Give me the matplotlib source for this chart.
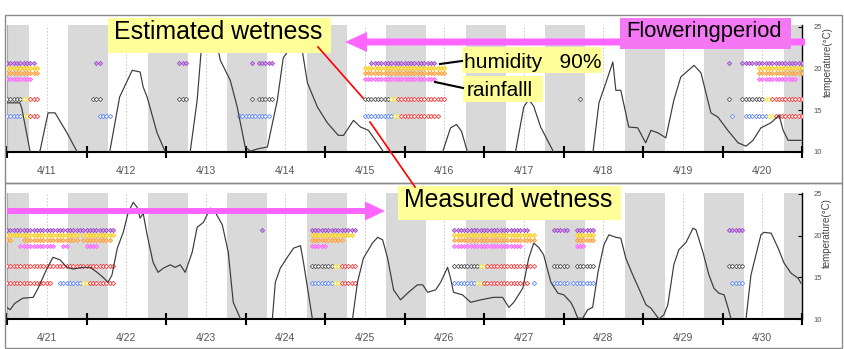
import numpy as np
import matplotlib
matplotlib.use('Agg')
import matplotlib.pyplot as plt
from matplotlib.patches import Rectangle, FancyArrow
from matplotlib.lines import Line2D
import matplotlib.transforms as mtransforms

plt.rcParams['font.family'] = ['Liberation Sans', 'DejaVu Sans']

# ---------------- data ----------------
top_days = ['4/11', '4/12', '4/13', '4/14', '4/15', '4/16', '4/17', '4/18', '4/19', '4/20']
bottom_days = ['4/21', '4/22', '4/23', '4/24', '4/25', '4/26', '4/27', '4/28', '4/29', '4/30']

# hours since 0:00 of the first day, air temperature (deg C)
top_hours = [0, 3.9, 4.5, 7, 8.5, 10, 12.4, 14.5, 18.1, 21.2, 23.6, 28, 31, 34, 37.8, 40.2, 41.1,
             42.3, 45.3, 47.8, 50.8, 55.3, 57.4, 59.2, 60.7, 62.3, 64.4, 67.4, 69.5, 71.9, 73.5,
             75.9, 78.6, 81.6, 83.4, 85.5, 87.3, 89.2, 90.7, 93.7, 96.7, 100, 101.6, 104.6, 106.7,
             109.1, 111.8, 113.7, 117.3, 127.9, 131.5, 133.9, 135.7, 137.2, 139, 146, 153.5, 156,
             157.5, 159, 161.1, 165, 170.2, 176.9, 178.7, 180.8, 182.9, 183.8, 185.3, 187.7, 190.4,
             192.8, 194.4, 196.5, 198.9, 201.3, 203.4, 207.4, 209.5, 212.5, 214.6, 217.6, 220.7,
             223.1, 225.2, 227.6, 230.6, 233.1, 234.3, 235.8, 239.7]
top_temp = [15.9, 15.9, 15.2, 10.0, 9.5, 10.2, 14.7, 14.7, 12.3, 10.0, 9.0, 9.0, 10.0, 16.6, 19.8,
            19.6, 17.8, 16.6, 12.3, 10.0, 9.0, 10.0, 16.2, 25.0, 26.5, 25.0, 21.0, 18.6, 15.4, 10.6,
            10.1, 10.4, 10.6, 16.2, 21.3, 22.5, 25.5, 22.0, 18.3, 15.4, 13.5, 12.0, 12.0, 13.8,
            13.0, 12.6, 11.1, 10.0, 9.0, 9.0, 10.0, 12.9, 13.3, 12.5, 10.0, 9.0, 10.0, 15.4, 16.3,
            15.5, 13.0, 10.0, 9.0, 10.0, 15.9, 18.3, 20.8, 17.4, 17.4, 13.0, 12.9, 11.1, 12.6,
            12.3, 11.7, 16.2, 19.0, 20.4, 19.5, 14.7, 14.2, 12.6, 11.1, 10.7, 11.4, 12.9, 13.5,
            14.4, 12.6, 11.4, 11.4]

bottom_hours = [0, 0.9, 2.4, 4.8, 7.9, 9.4, 12.1, 13.9, 16.0, 18.1, 20.0, 23.0, 25.1, 27.2, 29.0,
                30.5, 31.7, 33.3, 35.1, 36.6, 38.1, 39.3, 40.2, 41.1, 42.3, 44.1, 45.6, 47.2,
                49.3, 50.8, 52.3, 53.8, 55.9, 57.4, 59.3, 61.4, 62.9, 65.0, 66.8, 68.3, 70.4,
                72.6, 78.0, 80.1, 81.0, 82.5, 84.6, 86.5, 88.6, 89.5, 92.2, 98.0, 104.3, 105.8,
                107.6, 110.3, 111.9, 113.4, 114.9, 116.7, 118.8, 121.2, 123.9, 125.5, 127.0,
                129.4, 130.9, 133.0, 133.9, 134.8, 137.5, 140.0, 143.0, 146.9, 149.6, 151.5,
                153.0, 155.7, 157.5, 159.0, 160.5, 162.0, 164.2, 166.3, 168.1, 170.2, 171.1,
                172.3, 173.8, 175.3, 176.8, 178.4, 180.2, 181.7, 183.8, 185.3, 186.8, 188.9,
                190.7, 192.9, 194.4, 195.9, 196.8, 198.3, 199.5, 201.3, 202.8, 205.0, 207.1,
                208.0, 210.1, 211.9, 213.4, 214.9, 216.5, 217.7, 218.6, 220.7, 223.1, 224.6,
                226.1, 227.6, 228.5, 230.7, 232.8, 234.6, 236.7, 238.8, 239.7]
bottom_temp = [11.4, 11.1, 11.9, 12.5, 12.6, 13.7, 16.1, 17.4, 17.1, 16.2, 16.0, 16.2, 16.2, 15.6,
               15.0, 14.4, 15.3, 18.5, 20.4, 22.8, 24.0, 23.4, 22.1, 22.7, 20.1, 16.8, 15.6, 16.1,
               16.5, 16.2, 16.5, 15.6, 18.0, 21.0, 21.6, 23.3, 22.8, 21.3, 18.0, 12.0, 10.1, 9.0,
               9.0, 10.0, 14.4, 16.1, 17.4, 18.5, 18.8, 16.8, 10.0, 9.0, 10.0, 14.4, 17.3, 19.1,
               19.8, 19.5, 17.3, 13.5, 12.3, 13.2, 14.1, 14.1, 13.2, 13.5, 14.4, 16.2, 14.9, 13.2,
               12.9, 12.0, 12.3, 12.6, 12.6, 11.4, 12.0, 13.7, 17.3, 19.1, 18.6, 17.7, 14.4, 13.1,
               12.9, 12.0, 11.3, 10.1, 10.1, 11.1, 11.4, 15.6, 18.9, 20.1, 19.8, 19.7, 17.3, 15.3,
               13.7, 11.7, 11.3, 10.5, 10.0, 10.5, 11.7, 16.5, 18.3, 19.2, 20.9, 20.7, 18.0, 15.3,
               13.7, 13.1, 12.9, 11.3, 10.0, 9.0, 10.0, 15.3, 17.7, 20.1, 20.4, 20.3, 18.5, 16.7,
               15.5, 14.9, 14.3]

# hourly condition flags: (start hour, end hour)
top_humidity = [(0, 8), (27, 28), (52, 54), (74, 74), (76, 80), (110, 129), (218, 218), (222, 240)]
top_yellow = [(0, 9), (108, 132), (227, 240)]
top_orange = [(0, 9), (108, 132), (227, 240)]
top_rain = [(0, 7), (108, 124), (125, 129), (227, 238)]
# wetness rows: (start hour, end hour, state)  g=dry estimate, b=dry measured, y=transition, r=wet
top_estimated = [(0, 4, 'g'), (5, 6, 'y'), (7, 9, 'r'), (26, 28, 'g'), (52, 54, 'g'), (74, 74, 'g'),
                 (76, 80, 'g'), (108, 115, 'g'), (116, 117, 'y'), (118, 132, 'r'), (173, 173, 'g'),
                 (218, 218, 'g'), (222, 228, 'g'), (229, 230, 'y'), (231, 240, 'r')]
top_measured = [(0, 4, 'b'), (5, 6, 'y'), (7, 9, 'r'), (28, 31, 'b'), (70, 79, 'b'), (108, 116, 'b'),
                (117, 118, 'y'), (119, 130, 'r'), (219, 219, 'b'), (223, 229, 'b'), (230, 231, 'y'),
                (232, 240, 'r')]

bottom_humidity = [(0, 32), (77, 77), (92, 105), (135, 157), (165, 169), (172, 177), (218, 222)]
bottom_yellow = [(0, 21), (23, 32), (92, 104), (135, 159), (172, 177)]
bottom_orange = [(0, 1), (5, 21), (23, 31), (92, 101), (135, 159), (172, 177)]
bottom_rain = [(4, 12), (13, 14), (17, 18), (24, 27), (92, 96), (135, 155), (172, 174)]
bottom_estimated = [(0, 32, 'r'), (92, 98, 'g'), (99, 100, 'y'), (101, 105, 'r'), (135, 142, 'g'),
                    (143, 144, 'y'), (145, 159, 'r'), (165, 169, 'g'), (172, 177, 'g'),
                    (218, 222, 'g')]
bottom_measured = [(0, 13, 'r'), (16, 22, 'b'), (23, 24, 'y'), (25, 32, 'r'), (92, 98, 'b'),
                   (99, 100, 'y'), (101, 105, 'r'), (135, 141, 'b'), (142, 143, 'y'), (144, 157, 'r'),
                   (159, 159, 'b'), (165, 169, 'b'), (171, 177, 'b'), (219, 222, 'b')]

# ---------------- styling ----------------
W, H = 844, 349
fig = plt.figure(figsize=(W / 100, H / 100), dpi=100)
PX = mtransforms.Affine2D().scale(1 / W, -1 / H).translate(0, 1) + fig.transFigure

GRAY = '#d9d9d9'
STATE_COL = {'g': '#555555', 'b': '#5f87ff', 'y': '#f5e632', 'r': '#ff3b3b'}
ROW_LEVEL = {'hum': 20.7, 'yel': 20.05, 'ora': 19.45, 'rain': 18.75, 'est': 16.4, 'mea': 14.3}


def draw_flags(ax, segs, level, color, light):
    for s, e in segs:
        hrs = np.arange(s, e + 0.5, 1.0)
        ax.plot(hrs, [level] * len(hrs), ls='-', lw=0.6, color=light, marker='D', ms=2.2,
                mfc=light, mec=color, mew=0.5, zorder=3)


def draw_states(ax, segs, level):
    for s, e, st in segs:
        c = STATE_COL[st]
        hrs = np.arange(s, e + 0.5, 1.0)
        ax.plot(hrs, [level] * len(hrs), ls='-', lw=0.6, color=c, marker='D', ms=2.2,
                mfc='white', mec=c, mew=0.6, zorder=3)


def panel(rect, ytop, labels, hours, temps, hum, yel, ora, rain, est, mea):
    ax = fig.add_axes(rect)
    ax.set_xlim(0, 240)
    ax.set_ylim(10, ytop)
    for d in range(-1, 10):
        ax.axvspan(d * 24 + 18.5, d * 24 + 30.5, color=GRAY, lw=0, zorder=0)
        ax.axvline(d * 24 + 12, color='#c4c4c4', lw=0.6, ls=(0, (2, 2)), zorder=1)
    draw_flags(ax, hum, ROW_LEVEL['hum'], '#9a3fc8', '#c99be0')
    draw_flags(ax, yel, ROW_LEVEL['yel'], '#ffc400', '#ffe680')
    draw_flags(ax, ora, ROW_LEVEL['ora'], '#ff9a2e', '#ffc48a')
    draw_flags(ax, rain, ROW_LEVEL['rain'], '#ff5cff', '#ff9cff')
    draw_states(ax, est, ROW_LEVEL['est'])
    draw_states(ax, mea, ROW_LEVEL['mea'])
    ax.plot(hours, temps, color='#3a3a3a', lw=0.85, zorder=4)

    ax.set_xticks(np.arange(0, 241, 24))
    ax.set_xticklabels([])
    ax.set_xticks(np.arange(12, 240, 24), minor=True)
    ax.set_xticklabels(labels, minor=True)
    ax.tick_params(axis='x', which='major', direction='inout', length=8, width=1.5, color='black')
    ax.tick_params(axis='x', which='minor', length=0, pad=10, labelsize=7.5, labelcolor='#555555')

    ax.yaxis.tick_right()
    ax.set_yticks([10, 15, 20, 25])
    ax.tick_params(axis='y', direction='in', length=3, width=0.8, pad=8, labelsize=5.5,
                   labelcolor='#555555')
    ax.spines['top'].set_visible(False)
    ax.spines['left'].set_color('#aaaaaa')
    ax.spines['left'].set_linewidth(0.8)
    ax.spines['bottom'].set_linewidth(1.5)
    ax.spines['right'].set_linewidth(1.0)
    return ax


ax1 = panel([7 / W, 1 - 152 / H, 795 / W, 127 / H], 25.24, top_days, top_hours, top_temp,
            top_humidity, top_yellow, top_orange, top_rain, top_estimated, top_measured)
ax2 = panel([7 / W, 1 - 319 / H, 795 / W, 126 / H], 25.12, bottom_days, bottom_hours, bottom_temp,
            bottom_humidity, bottom_yellow, bottom_orange, bottom_rain, bottom_estimated,
            bottom_measured)

# outer frames
for (x0, y0, w, h) in [(5, 15, 837, 168), (5, 183, 837, 165)]:
    fig.add_artist(Rectangle((x0, y0), w, h, transform=PX, fill=False, ec='#8a8a8a', lw=1.0,
                             zorder=2))

# axis titles
fig.text(828, 62, 'temperature(°C)', transform=PX, rotation=90, ha='center', va='center',
         fontsize=7, color='#444444')
fig.text(827, 233, 'temperature(°C)', transform=PX, rotation=90, ha='center', va='center',
         fontsize=7, color='#444444')

# flowering period arrows
PINK = '#ff66ff'
fig.add_artist(FancyArrow(805, 42, -460, 0, width=7, head_width=20, head_length=22,
                          length_includes_head=True, transform=PX, color=PINK, lw=0, zorder=4))
fig.add_artist(FancyArrow(7, 211, 378, 0, width=6, head_width=19, head_length=20,
                          length_includes_head=True, transform=PX, color=PINK, lw=0, zorder=4))


def label_box(x0, y0, x1, y1, tx, ty, text, size, fc='#ffff99'):
    fig.add_artist(Rectangle((x0, y0), x1 - x0, y1 - y0, transform=PX, fc=fc, ec='none',
                             zorder=5))
    fig.text(tx, ty, text, transform=PX, ha='left', va='baseline', fontsize=size,
             color='black', zorder=6)


label_box(108, 18, 331, 53, 114, 39, 'Estimated wetness', 17.9)
label_box(398, 186, 621, 220, 404, 207, 'Measured wetness', 17.9)
label_box(462, 47, 602, 73, 464, 68, 'humidity   90%', 15)
label_box(463, 76, 543, 102, 467, 96, 'rainfalll', 15)
label_box(620, 18, 791, 49, 626, 37, 'Floweringperiod', 15.8, fc='#f477f4')

# pointer lines
for xs, ys, c, lw in [([318, 363], [47, 98], 'red', 1.2), ([370, 415], [122, 187], 'red', 1.2),
                      ([440, 462], [64, 61], 'black', 1.5), ([435, 463], [82, 88], 'black', 1.5)]:
    fig.add_artist(Line2D(xs, ys, transform=PX, color=c, lw=lw, zorder=7))

fig.savefig('out.png', dpi=100)
